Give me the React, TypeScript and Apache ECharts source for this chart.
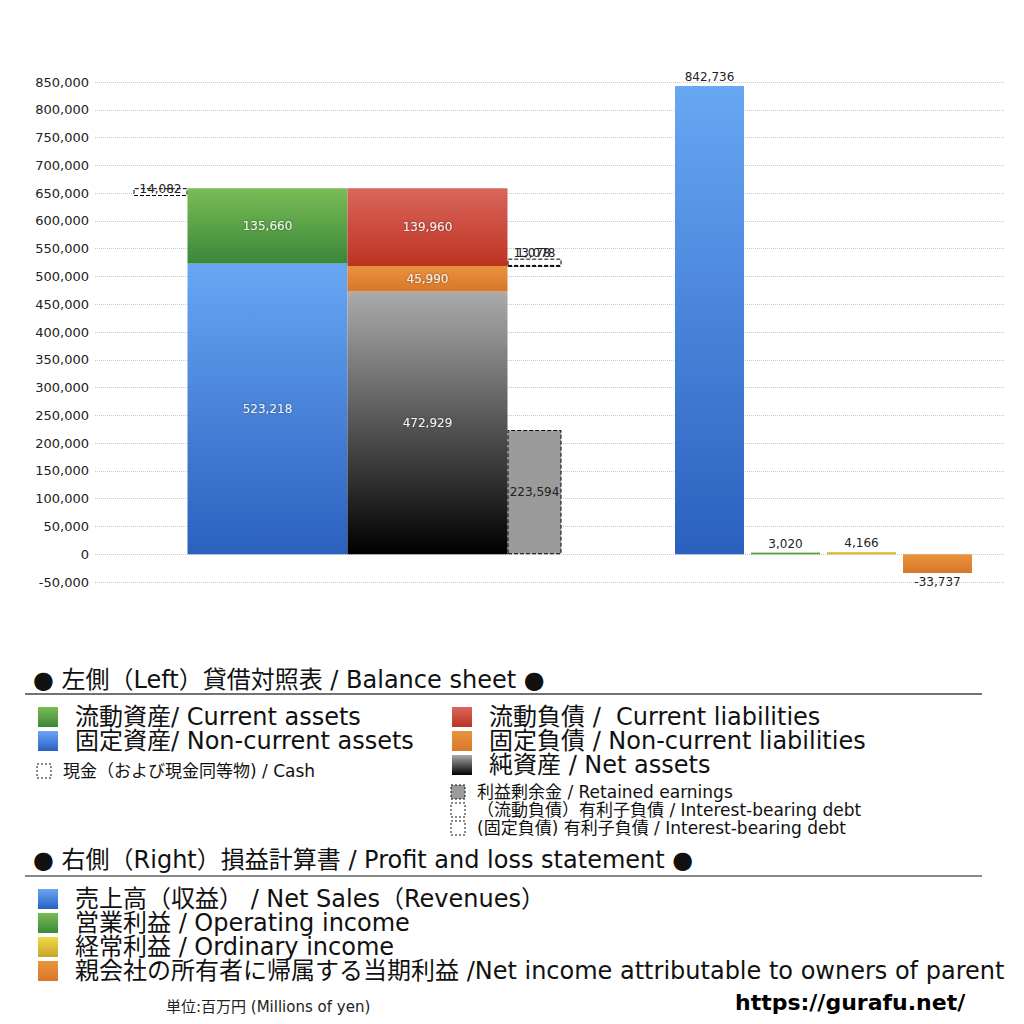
import React, { useEffect, useRef } from 'react'
import * as echarts from 'echarts'

// 貸借対照表 / Balance sheet (millions of yen)
const cash = 14082
const currentAssets = 135660
const nonCurrentAssets = 523218
const currentLiabilities = 139960
const nonCurrentLiabilities = 45990
const netAssets = 472929
const retainedEarnings = 223594
const currentDebt = 13078
const nonCurrentDebt = 1078

// 損益計算書 / Profit and loss statement
const plNames = ['売上高', '営業利益', '経常利益', '当期利益']
const plValues = [842736, 3020, 4166, -33737]

// y axis ticks
const yMin = -50000
const yMax = 850000
const yStep = 50000

const grad = (top: string, bottom: string) =>
    new echarts.graphic.LinearGradient(0, 0, 0, 1, [
        { offset: 0, color: top },
        { offset: 1, color: bottom },
    ])

const BLUE = ['#67a7f3', '#2b60bf']
const GREEN = ['#7abd56', '#3a873a']
const RED = ['#da665c', '#bd3322']
const ORANGE = ['#e9933e', '#d8772a']
const GRAY = ['#ababab', '#000000']
const YELLOW = ['#f0d84a', '#c9a52c']
const plColors = [BLUE, GREEN, YELLOW, ORANGE]

const fmt = (v: number) => v.toLocaleString('en-US')
const JP = '"DejaVu Sans", "Noto Sans CJK JP", sans-serif'
const NUM = '"DejaVu Sans", sans-serif'

const App: React.FC = () => {
    const chartRef = useRef<HTMLDivElement>(null)

    useEffect(() => {
        document.body.style.margin = '0'
        const chart = echarts.init(chartRef.current, null, { renderer: 'svg' })

        const inLabel = {
            show: true,
            position: 'inside',
            color: '#f2f2f2',
            fontSize: 12,
            fontFamily: NUM,
            textShadowColor: 'rgba(0,0,0,0.45)',
            textShadowBlur: 2,
            formatter: (p: any) => fmt(p.value),
        }
        const darkLabel = { ...inLabel, color: '#222', textShadowBlur: 0 }
        const dashed = {
            color: '#ffffff',
            borderColor: '#000',
            borderType: 'dashed',
            borderWidth: 1,
        }
        const hidden = { color: 'rgba(0,0,0,0)' }
        const bs = { type: 'bar', xAxisIndex: 1, yAxisIndex: 1, barGap: '0%' }

        const legendRow = (x: number, y: number, size: number, fill: any, text: string, fontSize: number, dash = false) => [
            {
                type: 'rect',
                shape: { x, y: y - size / 2, width: size, height: size },
                style: dash
                    ? { fill: fill, stroke: '#111', lineWidth: 1, lineDash: [2, 2] }
                    : { fill: fill },
            },
            {
                type: 'text',
                x: x + size + (fontSize > 18 ? 17 : 12),
                y,
                style: { text, fill: '#111', font: `${fontSize}px ${JP}`, verticalAlign: 'middle', align: 'left' },
            },
        ]

        const option = {
            animation: false,
            grid: [
                { left: 95, right: 19, top: 82, height: 500 },
                { left: 95, width: 505, top: 82, height: 500 },
                { left: 671.5, width: 304, top: 82, height: 500 },
            ],
            xAxis: [
                { type: 'category', gridIndex: 0, data: [''], show: false },
                { type: 'category', gridIndex: 1, data: ['BS'], show: false },
                { type: 'category', gridIndex: 2, data: plNames, show: false },
            ],
            yAxis: [
                {
                    type: 'value',
                    gridIndex: 0,
                    min: yMin,
                    max: yMax,
                    interval: yStep,
                    axisLine: { show: false },
                    axisTick: { show: false },
                    axisLabel: {
                        color: '#222',
                        fontSize: 13,
                        fontFamily: NUM,
                        margin: 6,
                        formatter: (v: number) => fmt(v),
                    },
                    splitLine: { lineStyle: { type: 'dotted', color: '#c8c8c8' } },
                },
                { type: 'value', gridIndex: 1, min: yMin, max: yMax, interval: yStep, show: false },
                { type: 'value', gridIndex: 2, min: yMin, max: yMax, interval: yStep, show: false },
            ],
            series: [
                // cash column
                { ...bs, stack: 'cash', barWidth: 54, data: [nonCurrentAssets + currentAssets - cash], itemStyle: hidden, silent: true },
                {
                    ...bs, stack: 'cash', barWidth: 54, data: [cash], itemStyle: dashed,
                    label: { ...darkLabel, offset: [0, -3] },
                },
                // assets
                { ...bs, stack: 'assets', barWidth: 160, data: [nonCurrentAssets], itemStyle: { color: grad(BLUE[0], BLUE[1]) }, label: inLabel },
                { ...bs, stack: 'assets', barWidth: 160, data: [currentAssets], itemStyle: { color: grad(GREEN[0], GREEN[1]) }, label: inLabel },
                // liabilities + net assets
                { ...bs, stack: 'liab', barWidth: 160, data: [netAssets], itemStyle: { color: grad(GRAY[0], GRAY[1]) }, label: inLabel },
                { ...bs, stack: 'liab', barWidth: 160, data: [nonCurrentLiabilities], itemStyle: { color: grad(ORANGE[0], ORANGE[1]) }, label: inLabel },
                { ...bs, stack: 'liab', barWidth: 160, data: [currentLiabilities], itemStyle: { color: grad(RED[0], RED[1]) }, label: inLabel },
                // retained earnings + interest-bearing debt
                {
                    ...bs, stack: 'right', barWidth: 54, data: [retainedEarnings],
                    itemStyle: { ...dashed, color: '#9b9b9b' }, label: darkLabel,
                },
                {
                    ...bs, stack: 'right', barWidth: 54,
                    data: [netAssets + nonCurrentLiabilities - nonCurrentDebt - retainedEarnings],
                    itemStyle: hidden, silent: true,
                },
                {
                    ...bs, stack: 'right', barWidth: 54, data: [nonCurrentDebt], itemStyle: dashed,
                    label: { ...darkLabel, position: 'top', distance: 0, offset: [-1, -7] },
                },
                {
                    ...bs, stack: 'right', barWidth: 54, data: [currentDebt], itemStyle: dashed,
                    label: { ...darkLabel, position: 'top', distance: 0 },
                },
                // profit and loss
                {
                    type: 'bar',
                    xAxisIndex: 2,
                    yAxisIndex: 2,
                    barWidth: 69,
                    data: plValues.map((v, i) => ({
                        value: v,
                        itemStyle: { color: grad(plColors[i][0], plColors[i][1]) },
                        label: { position: v < 0 ? 'bottom' : 'top' },
                    })),
                    label: { ...darkLabel, position: 'top', distance: 3 },
                },
            ],
            graphic: [
                {
                    type: 'text',
                    x: 33,
                    y: 680,
                    style: { text: '● 左側（Left）貸借対照表 / Balance sheet ●', fill: '#111', font: `24px ${JP}`, verticalAlign: 'middle' },
                },
                { type: 'line', shape: { x1: 25, y1: 694, x2: 982, y2: 694 }, style: { stroke: '#444', lineWidth: 1.5 } },
                ...legendRow(38, 717, 20, grad(GREEN[0], GREEN[1]), '流動資産/ Current assets', 24),
                ...legendRow(38, 741, 20, grad(BLUE[0], BLUE[1]), '固定資産/ Non-current assets', 24),
                ...legendRow(37, 771, 14, '#fff', '現金（および現金同等物) / Cash', 17, true),
                ...legendRow(452, 717, 20, grad(RED[0], RED[1]), '流動負債 /  Current liabilities', 24),
                ...legendRow(452, 741, 20, grad(ORANGE[0], ORANGE[1]), '固定負債 / Non-current liabilities', 24),
                ...legendRow(452, 765, 20, grad(GRAY[0], GRAY[1]), '純資産 / Net assets', 24),
                ...legendRow(451, 792, 14, '#9b9b9b', '利益剰余金 / Retained earnings', 17, true),
                ...legendRow(451, 810, 14, '#fff', '（流動負債）有利子負債 / Interest-bearing debt', 17, true),
                ...legendRow(451, 828, 14, '#fff', '(固定負債) 有利子負債 / Interest-bearing debt', 17, true),
                {
                    type: 'text',
                    x: 33,
                    y: 860,
                    style: { text: '● 右側（Right）損益計算書 / Profit and loss statement ●', fill: '#111', font: `24px ${JP}`, verticalAlign: 'middle' },
                },
                { type: 'line', shape: { x1: 25, y1: 876, x2: 982, y2: 876 }, style: { stroke: '#888', lineWidth: 2 } },
                ...legendRow(38, 899, 20, grad(BLUE[0], BLUE[1]), '売上高（収益） / Net Sales（Revenues）', 24),
                ...legendRow(38, 923, 20, grad(GREEN[0], GREEN[1]), '営業利益 / Operating income', 24),
                ...legendRow(38, 947, 20, grad(YELLOW[0], YELLOW[1]), '経常利益 / Ordinary income', 24),
                ...legendRow(38, 971, 20, grad(ORANGE[0], ORANGE[1]), '親会社の所有者に帰属する当期利益 /Net income attributable to owners of parent', 24),
                {
                    type: 'text',
                    x: 166,
                    y: 1007,
                    style: { text: '単位:百万円 (Millions of yen)', fill: '#222', font: `15px ${JP}`, verticalAlign: 'middle' },
                },
                {
                    type: 'text',
                    x: 735,
                    y: 1002,
                    style: { text: 'https://gurafu.net/', fill: '#000', font: `bold 22px "DejaVu Sans", sans-serif`, verticalAlign: 'middle' },
                },
            ],
        }

        chart.setOption(option as any)

        return () => {
            chart.dispose()
        }
    }, [])

    return <div ref={chartRef} style={{ width: '1024px', height: '1024px' }} />
}

export default App
